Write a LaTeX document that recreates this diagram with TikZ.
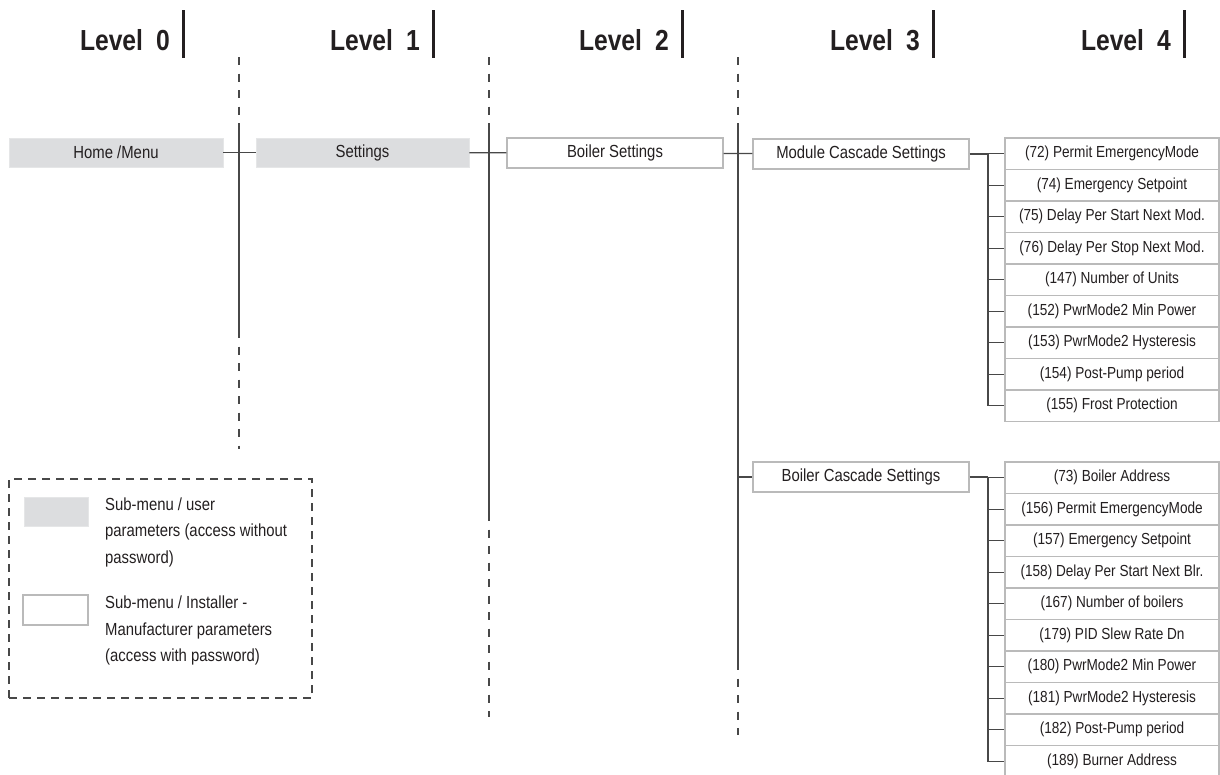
\documentclass[tikz,border=0pt]{standalone}
\usepackage{fontspec}
\setmainfont[FakeStretch=0.85]{Liberation Sans}
\definecolor{menuGray}{RGB}{220,221,223}
\definecolor{menuEdge}{RGB}{229,230,231}
\definecolor{boxEdge}{RGB}{186,186,186}
\definecolor{inkDark}{RGB}{35,31,32}
\definecolor{lineGray}{RGB}{72,72,72}
\tikzset{
  userbox/.style={fill=menuGray,draw=menuEdge,line width=0.8pt,minimum width=214pt,minimum height=29pt,inner sep=0pt,text=inkDark,font=\fontsize{17.5}{20}\selectfont},
  instbox/.style={userbox,fill=white,draw=boxEdge,line width=1.3pt},
  parbox/.style={instbox,minimum width=214pt,minimum height=31.5pt,font=\fontsize{16}{19}\selectfont},
  lvltext/.style={font=\fontsize{29}{32}\selectfont\bfseries,text=inkDark,inner sep=0pt,anchor=base east},
  lvlbar/.style={line width=3pt,draw=inkDark},
  tree/.style={line width=1.3pt,draw=lineGray},
  treedash/.style={tree,dash pattern=on 8pt off 8.5pt},
  legendframe/.style={draw=lineGray,line width=1.1pt,dash pattern=on 8pt off 6pt,minimum width=303pt,minimum height=219pt,inner sep=0pt},
  legtext/.style={font=\fontsize{17.5}{26.5}\selectfont,text=inkDark,align=left,inner sep=0pt,anchor=north west},
}

\begin{document}
\begin{tikzpicture}[x=1pt,y=-1pt]
\useasboundingbox (0,0) rectangle (1220,774);
% level headings
\foreach \k/\x in {0/183,1/433,2/682,3/933,4/1184}{
  \node[lvltext] (lvl\k) at (\x-13,50) {Level\hspace{0.45em}\k};
  \draw[lvlbar] (\x,10) -- (\x,58);
}
% level lines
\foreach \x/\a/\b in {239/330/449,489/513/717,738/662/735}{
  \draw[treedash] (\x,57) -- (\x,130);
  \draw[tree] (\x,130) -- (\x,\a);
  \draw[treedash] (\x,\a) -- (\x,\b);
}
% menu row
\node[userbox] (home) at (116,152.5) {Home /Menu};
\node[userbox,minimum width=213pt] (settings) at (362.5,152.5) {Settings};
\node[instbox,minimum width=216pt,minimum height=30pt] (boiler) at (615,153) {Boiler Settings};
\node[instbox,minimum width=216pt,minimum height=30pt] (module) at (861,154) {Module Cascade Settings};
\node[instbox,minimum width=216pt,minimum height=30pt] (cascade) at (861,477) {Boiler Cascade Settings};
\draw[tree] (home) -- (settings);
\draw[tree] (settings) -- (boiler);
\draw[tree] (boiler) -- (module);
\coordinate (tap) at (738,477);
\draw[tree] (tap) -- (cascade);
% level 4 parameters
\coordinate (mfork) at (988,154);
\coordinate (bfork) at (988,477);
\draw[tree] (module.east) -- (mfork);
\draw[tree] (cascade.east) -- (bfork);
\foreach[count=\i] \t in {{(72) Permit EmergencyMode},{(74) Emergency Setpoint},{(75) Delay Per Start Next Mod.},{(76) Delay Per Stop Next Mod.},{(147) Number of Units},{(152) PwrMode2 Min Power},{(153) PwrMode2 Hysteresis},{(154) Post-Pump period},{(155) Frost Protection}}{
  \node[parbox] (mp\i) at (1112,{122.25+31.5*\i}) {\t};
  \draw[tree] (mfork) |- (mp\i.west);
}
\foreach[count=\i] \t in {{(73) Boiler Address},{(156) Permit EmergencyMode},{(157) Emergency Setpoint},{(158) Delay Per Start Next Blr.},{(167) Number of boilers},{(179) PID Slew Rate Dn},{(180) PwrMode2 Min Power},{(181) PwrMode2 Hysteresis},{(182) Post-Pump period},{(189) Burner Address}}{
  \node[parbox] (bp\i) at (1112,{446.25+31.5*\i}) {\t};
  \draw[tree] (bfork) |- (bp\i.west);
}
% legend
\node[legendframe] (legend) at (160.5,588.5) {};
\node[userbox,minimum width=64pt] (keyuser) at (56,511.5) {};
\node[instbox,minimum width=65pt,minimum height=30pt] (keyinst) at (55.5,610) {};
\node[legtext] (keyusertxt) at (105,497.5) {Sub-menu / user\\parameters (access without\\password)};
\node[legtext] (keyinsttxt) at (105,596) {Sub-menu / Installer -\\Manufacturer parameters\\(access with password)};
\end{tikzpicture}
\end{document}
